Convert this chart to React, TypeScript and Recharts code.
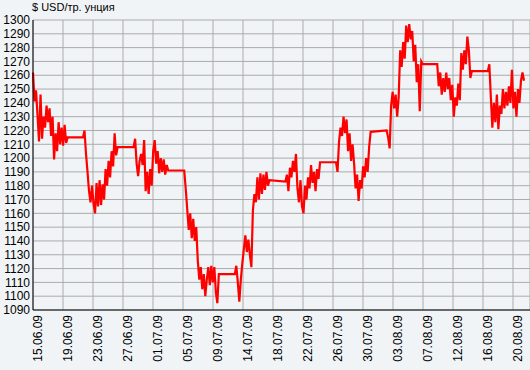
import { CartesianGrid, Line, LineChart, XAxis, YAxis } from "recharts";

// hourly-ish gold quotes, one sample every 5 hours, grouped by trading week
const STEP_H = 5;

const weekOpens = [
  "2009-06-15T00:00:00Z",
  "2009-06-21T22:00:00Z",
  "2009-06-28T22:00:00Z",
  "2009-07-05T22:00:00Z",
  "2009-07-12T22:00:00Z",
  "2009-07-19T22:00:00Z",
  "2009-07-26T22:00:00Z",
  "2009-08-02T22:00:00Z",
  "2009-08-09T22:00:00Z",
  "2009-08-16T22:00:00Z",
];

const week1 = [
  1262, 1241, 1249, 1231, 1212, 1246, 1214, 1230, 1222, 1238, 1226, 1236,
  1216, 1230, 1199, 1218, 1205, 1226, 1210, 1222, 1209, 1224, 1211, 1215,
];
const week2 = [
  1215, 1220, 1203, 1190, 1176, 1168, 1180, 1167, 1160, 1182, 1165, 1184,
  1166, 1181, 1170, 1192, 1180, 1198, 1186, 1205, 1194, 1218, 1202, 1208,
];
const week3 = [
  1208, 1214, 1196, 1187, 1198, 1203, 1195, 1213, 1176, 1190, 1174, 1192,
  1180, 1205, 1213, 1196, 1205, 1189, 1200, 1190, 1199, 1188, 1195, 1191,
];
const week4 = [
  1191, 1178, 1163, 1148, 1160, 1142, 1156, 1140, 1150, 1126, 1112, 1121,
  1105, 1116, 1100, 1112, 1121, 1108, 1122, 1110, 1121, 1103, 1095, 1116,
];
const week5 = [
  1116, 1122, 1110, 1096, 1112, 1124, 1134, 1144, 1132, 1141, 1130, 1121,
  1162, 1174, 1168, 1186, 1170, 1189, 1174, 1188, 1177, 1190, 1180, 1184,
];
const week6 = [
  1183, 1188, 1176, 1193, 1186, 1198, 1190, 1203, 1178, 1168, 1184, 1165,
  1160, 1180, 1170, 1186, 1178, 1195, 1182, 1190, 1176, 1192, 1185, 1197,
];
const week7 = [
  1197, 1190, 1212, 1222, 1216, 1230, 1218, 1228, 1205, 1218, 1198, 1210,
  1196, 1178, 1188, 1169, 1184, 1178, 1194, 1186, 1200, 1190, 1208, 1219,
];
const week8 = [
  1220, 1215, 1207, 1238, 1248, 1236, 1246, 1230, 1244, 1278, 1266, 1284,
  1272, 1296, 1284, 1297, 1286, 1292, 1270, 1282, 1255, 1268, 1234, 1270,
  1268,
];
const week9 = [
  1268, 1252, 1262, 1246, 1258, 1248, 1262, 1250, 1258, 1242, 1253, 1230,
  1244, 1238, 1254, 1242, 1276, 1264, 1278, 1268, 1288, 1278, 1258, 1263,
];
const week10 = [
  1263, 1268, 1244, 1222, 1240, 1226, 1246, 1221, 1238, 1232, 1250, 1236,
  1248, 1238, 1252, 1240, 1264, 1236, 1248, 1230, 1250, 1240, 1256, 1262,
  1256,
];

const weeks = [week1, week2, week3, week4, week5, week6, week7, week8, week9, week10];

const tickLabels = [
  "15.06.09", "19.06.09", "23.06.09", "27.06.09", "01.07.09", "05.07.09",
  "09.07.09", "14.07.09", "18.07.09", "22.07.09", "26.07.09", "30.07.09",
  "03.08.09", "07.08.09", "12.08.09", "16.08.09", "20.08.09",
];
const TICK_H = 99.6;
const X_MAX = 1650;

const yTicks = [
  1090, 1100, 1110, 1120, 1130, 1140, 1150, 1160, 1170, 1180, 1190, 1200,
  1210, 1220, 1230, 1240, 1250, 1260, 1270, 1280, 1290, 1300,
];

const start = Date.parse(weekOpens[0]);
const data = weeks.flatMap((prices, w) => {
  const openH = (Date.parse(weekOpens[w]) - start) / 3600000;
  return prices.map((price, i) => ({ h: openH + i * STEP_H, price }));
});
const xTicks = tickLabels.map((_, k) => k * TICK_H);

const FONT = '"Liberation Sans", Arial, sans-serif';

const DateTick = ({ x, y, index }: any) => (
  <text
    x={x}
    y={y + 3}
    dy={9}
    transform={`rotate(-90 ${x} ${y + 3})`}
    textAnchor="end"
    fontSize={12}
    fontFamily={FONT}
    fill="#000"
  >
    {tickLabels[index]}
  </text>
);

export default function App() {
  return (
    <div
      style={{
        position: "absolute",
        left: 0,
        top: 0,
        width: 530,
        height: 370,
        background: "#f1f4f6",
      }}
    >
      <div
        style={{
          position: "absolute",
          left: 32,
          top: 1,
          fontSize: 11,
          fontFamily: FONT,
          color: "#000",
        }}
      >
        $ USD/тр. унция
      </div>
      <LineChart
        width={530}
        height={370}
        data={data}
        margin={{ top: 20, right: 0, bottom: 0, left: 0 }}
      >
        <CartesianGrid stroke="#aaaaaa" strokeWidth={1} />
        <XAxis
          dataKey="h"
          type="number"
          domain={[0, X_MAX]}
          ticks={xTicks}
          interval={0}
          height={60}
          tickLine={false}
          tickSize={0}
          axisLine={{ stroke: "#000" }}
          tick={<DateTick />}
        />
        <YAxis
          type="number"
          domain={[1090, 1300]}
          ticks={yTicks}
          interval={0}
          width={33}
          tickLine={false}
          tickSize={0}
          tickMargin={3}
          axisLine={{ stroke: "#000" }}
          tick={{ fontSize: 12, fontFamily: FONT, fill: "#000" }}
        />
        <Line
          dataKey="price"
          type="linear"
          stroke="#ff0000"
          strokeWidth={2.2}
          dot={false}
          isAnimationActive={false}
        />
      </LineChart>
    </div>
  );
}
